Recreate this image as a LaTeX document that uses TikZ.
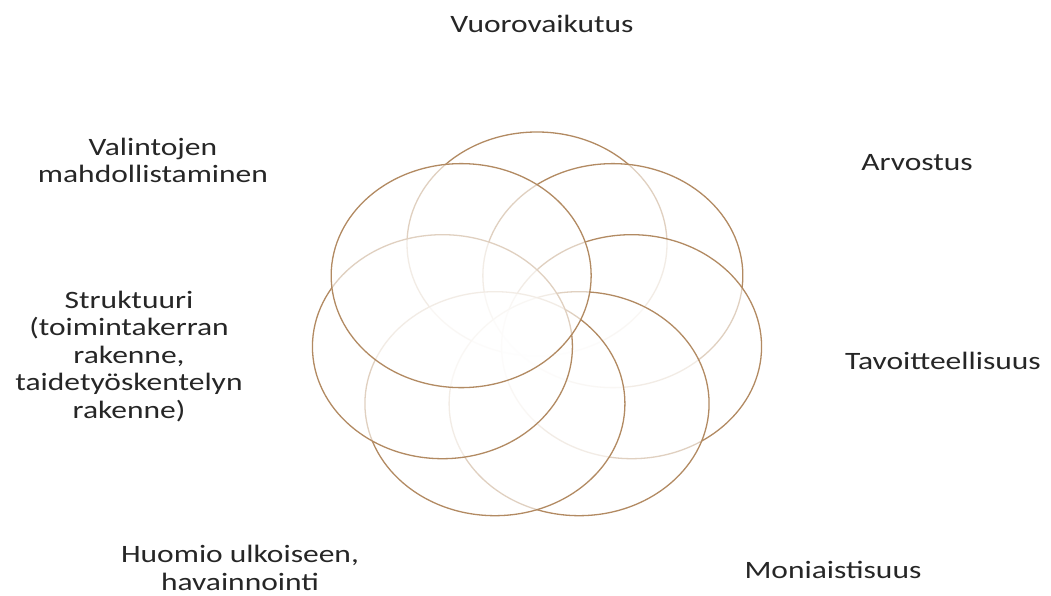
\documentclass[tikz,border=0pt]{standalone}
\usepackage{fontspec}
\setmainfont{Carlito}
\usetikzlibrary{calc}
\definecolor{ringcol}{RGB}{178,138,98}
\definecolor{txtcol}{RGB}{38,38,38}
\begin{document}
\begin{tikzpicture}[x=1pt,y=1pt,
  loopline/.style={draw=ringcol, line width=1.3pt, fill=white, fill opacity=0.6},
  lbl/.style={font=\fontsize{25}{27.5}\selectfont, text=txtcol, align=center, inner sep=0pt, xscale=1.26, anchor=base}]
\useasboundingbox (0,0) rectangle (1051,595);
\coordinate (O) at (537,267);
\foreach \k in {0,...,6} {
  \pgfmathsetmacro\t{90-\k*360/7}
  \coordinate (c\k) at ($(O)+(\t:97 and 84)$);
  \path[loopline] (c\k) ellipse [x radius=130pt, y radius=112pt];
}
\node[lbl] (l0) at (542,562) {Vuorovaikutus};
\node[lbl] (l1) at (917,424) {Arvostus};
\node[lbl] (l2) at (943,226) {Tavoitteellisuus};
\node[lbl] (l3) at (833,17) {Moniaistisuus};
\node[lbl] (l4) at (240,5) {Huomio ulkoiseen,\\havainnointi};
\node[lbl] (l5) at (129,177) {Struktuuri\\(toimintakerran\\rakenne,\\taidetyöskentelyn\\rakenne)};
\node[lbl] (l6) at (153,412) {Valintojen\\mahdollistaminen};
\end{tikzpicture}
\end{document}
